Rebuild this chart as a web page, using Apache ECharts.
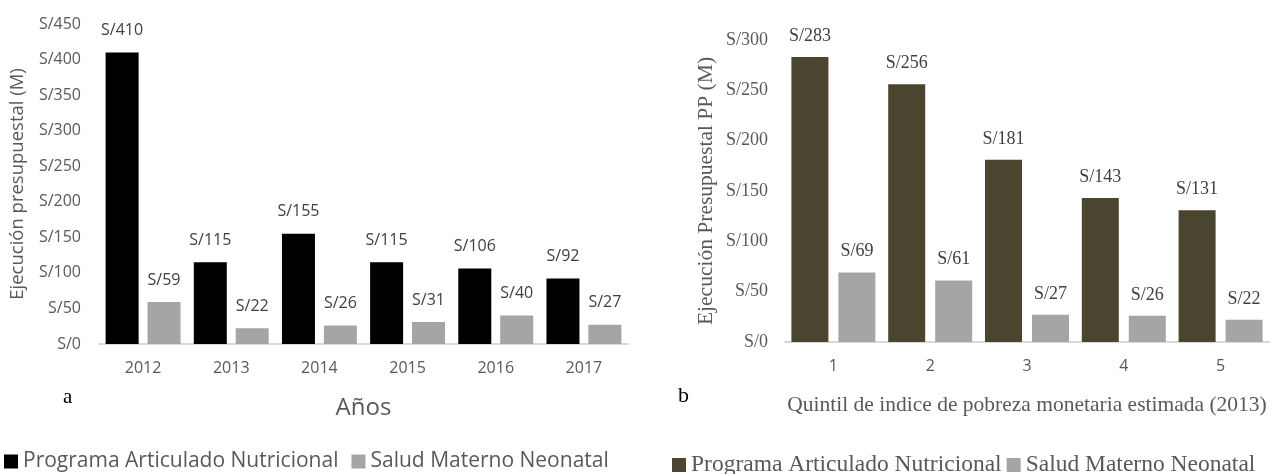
<!DOCTYPE html>
<html>
<head>
<meta charset="utf-8">
<script src="https://cdn.jsdelivr.net/npm/echarts@6/dist/echarts.min.js"></script>
<style>
  html, body { margin: 0; padding: 0; background: #fff; }
  #main { width: 1272px; height: 474px; }
</style>
</head>
<body>
<div id="main"></div>
<script>
// panel a: por año
var years = ['2012', '2013', '2014', '2015', '2016', '2017'];
var panYears = [410, 115, 155, 115, 106, 92];
var smnYears = [59, 22, 26, 31, 40, 27];

// panel b: por quintil
var quintiles = ['1', '2', '3', '4', '5'];
var panQuint = [283, 256, 181, 143, 131];
var smnQuint = [69, 61, 27, 26, 22];

var SANS = 'Open Sans';
var SERIF = 'Liberation Serif';
var B_SUFFIX = ' ·b';

function soles(v) { return 'S/' + v; }

var chart = echarts.init(document.getElementById('main'));

chart.setOption({
  animation: false,
  grid: [
    { left: 99, top: 24, width: 529, height: 320 },
    { left: 785, top: 40, width: 484, height: 302 }
  ],
  legend: [
    {
      left: 4, top: 451, padding: 0, width: 630,
      icon: 'rect', itemWidth: 14, itemHeight: 14, itemGap: 13,
      data: ['Programa Articulado Nutricional', 'Salud Materno Neonatal'],
      textStyle: { fontFamily: SANS, fontSize: 21, color: '#595959' }
    },
    {
      left: 672, top: 453, padding: 0, width: 600,
      icon: 'rect', itemWidth: 14, itemHeight: 14, itemGap: 5,
      data: ['Programa Articulado Nutricional' + B_SUFFIX, 'Salud Materno Neonatal' + B_SUFFIX],
      formatter: function (n) { return n.replace(B_SUFFIX, ''); },
      textStyle: { fontFamily: SERIF, fontSize: 23.5, color: '#595959' }
    }
  ],
  xAxis: [
    {
      gridIndex: 0, type: 'category', data: years,
      name: 'Años', nameLocation: 'middle', nameGap: 52,
      nameTextStyle: { fontFamily: SANS, fontSize: 24, color: '#595959' },
      axisLine: { lineStyle: { color: '#d9d9d9', width: 2 } },
      axisTick: { show: false },
      axisLabel: { fontFamily: SANS, fontSize: 16, color: '#595959', margin: 16 }
    },
    {
      gridIndex: 1, type: 'category', data: quintiles,
      name: 'Quintil de indice de pobreza monetaria estimada (2013)', nameLocation: 'middle', nameGap: 52,
      nameTextStyle: { fontFamily: SERIF, fontSize: 21.5, color: '#595959' },
      axisLine: { lineStyle: { color: '#d9d9d9', width: 2 } },
      axisTick: { show: false },
      axisLabel: { fontFamily: SANS, fontSize: 16, color: '#595959', margin: 16 }
    }
  ],
  yAxis: [
    {
      gridIndex: 0, type: 'value', min: 0, max: 450, interval: 50,
      name: 'Ejecución presupuestal (M)', nameLocation: 'middle', nameGap: 72,
      nameTextStyle: { fontFamily: SANS, fontSize: 18.5, color: '#595959' },
      axisLine: { show: false }, axisTick: { show: false }, splitLine: { show: false },
      axisLabel: { fontFamily: SANS, fontSize: 16, color: '#595959', margin: 18, formatter: soles }
    },
    {
      gridIndex: 1, type: 'value', min: 0, max: 300, interval: 50,
      name: 'Ejecución Presupuestal PP (M)', nameLocation: 'middle', nameGap: 68,
      nameTextStyle: { fontFamily: SERIF, fontSize: 21.5, color: '#595959' },
      axisLine: { show: false }, axisTick: { show: false }, splitLine: { show: false },
      axisLabel: { fontFamily: SERIF, fontSize: 18, color: '#595959', margin: 17, formatter: soles }
    }
  ],
  graphic: [
    { type: 'text', left: 63, top: 387, style: { text: 'a', font: '21px "Liberation Serif"', fill: '#000' } },
    { type: 'text', left: 678, top: 385, style: { text: 'b', font: '22px "Liberation Serif"', fill: '#000' } }
  ],
  series: [
    {
      name: 'Programa Articulado Nutricional', type: 'bar', xAxisIndex: 0, yAxisIndex: 0,
      data: panYears, barWidth: 33, barGap: '27%',
      itemStyle: { color: '#000000' },
      label: { show: true, position: 'top', distance: 14, formatter: function (p) { return soles(p.value); },
               fontFamily: SANS, fontSize: 16, color: '#404040' }
    },
    {
      name: 'Salud Materno Neonatal', type: 'bar', xAxisIndex: 0, yAxisIndex: 0,
      data: smnYears, barWidth: 33, barGap: '27%',
      itemStyle: { color: '#a5a5a5' },
      label: { show: true, position: 'top', distance: 14, formatter: function (p) { return soles(p.value); },
               fontFamily: SANS, fontSize: 16, color: '#404040' }
    },
    {
      name: 'Programa Articulado Nutricional' + B_SUFFIX, type: 'bar', xAxisIndex: 1, yAxisIndex: 1,
      data: panQuint, barWidth: 37, barGap: '27%',
      itemStyle: { color: '#4a452e' },
      label: { show: true, position: 'top', distance: 12, formatter: function (p) { return soles(p.value); },
               fontFamily: SERIF, fontSize: 18, color: '#404040' }
    },
    {
      name: 'Salud Materno Neonatal' + B_SUFFIX, type: 'bar', xAxisIndex: 1, yAxisIndex: 1,
      data: smnQuint, barWidth: 37, barGap: '27%',
      itemStyle: { color: '#a5a5a5' },
      label: { show: true, position: 'top', distance: 12, formatter: function (p) { return soles(p.value); },
               fontFamily: SERIF, fontSize: 18, color: '#404040' }
    }
  ]
});
</script>
</body>
</html>
